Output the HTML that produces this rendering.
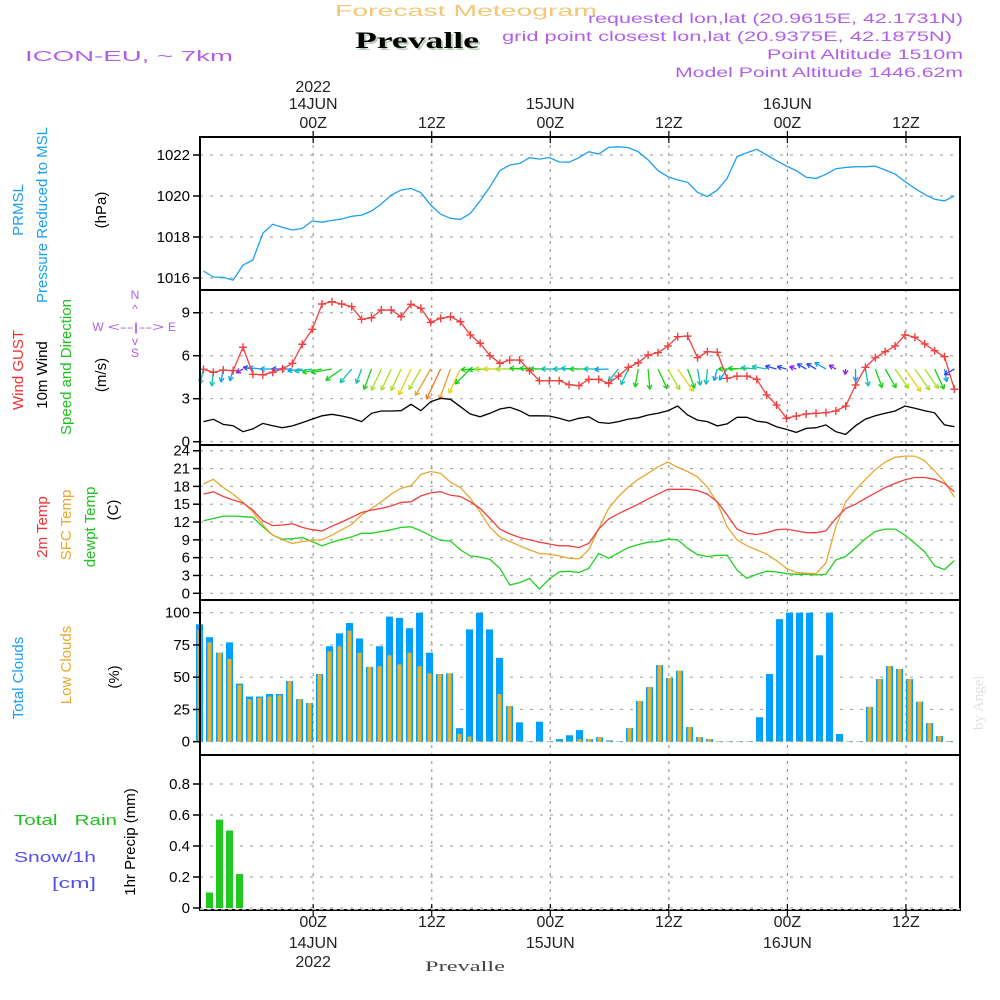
<!DOCTYPE html>
<html><head><meta charset="utf-8"><style>
html,body{margin:0;padding:0;background:#fff;}
svg{display:block;font-family:"Liberation Sans",sans-serif;}
</style></head><body>
<svg id="chart" width="1000" height="1000" viewBox="0 0 1000 1000" xmlns="http://www.w3.org/2000/svg">
<rect x="0" y="0" width="1000" height="1000" fill="#fff"/>
<g id="grid"></g>
<g id="marks"></g>
<g id="frames"></g>
<g id="labels">
<text x="335" y="16" font-size="16" fill="#f2c878" textLength="262" lengthAdjust="spacingAndGlyphs">Forecast Meteogram</text>
<text x="357" y="50" font-size="23" font-weight="bold" fill="#b8ccb8" font-family="Liberation Serif,serif" textLength="124" lengthAdjust="spacingAndGlyphs">Prevalle</text>
<text x="355" y="48" font-size="23" font-weight="bold" fill="#000" font-family="Liberation Serif,serif" textLength="124" lengthAdjust="spacingAndGlyphs">Prevalle</text>
<text x="25" y="61" font-size="15" fill="#b060e8" textLength="208" lengthAdjust="spacingAndGlyphs">ICON-EU, ~ 7km</text>
<text x="588" y="23" font-size="14" fill="#b060e8" textLength="375" lengthAdjust="spacingAndGlyphs">requested lon,lat (20.9615E, 42.1731N)</text>
<text x="502" y="41" font-size="14" fill="#b060e8" textLength="450" lengthAdjust="spacingAndGlyphs">grid point closest lon,lat (20.9375E, 42.1875N)</text>
<text x="767" y="59" font-size="14" fill="#b060e8" textLength="196" lengthAdjust="spacingAndGlyphs">Point Altitude 1510m</text>
<text x="675" y="77" font-size="14" fill="#b060e8" textLength="288" lengthAdjust="spacingAndGlyphs">Model Point Altitude 1446.62m</text>
<text x="425" y="971" font-size="15" fill="#444" font-family="Liberation Serif,serif" textLength="80" lengthAdjust="spacingAndGlyphs">Prevalle</text>
<text transform="translate(983,730) rotate(-90)" font-size="15" fill="#dde4dd" font-family="Liberation Serif,serif">by Angel</text>

<text transform="translate(23,210) rotate(-90)" font-size="15" fill="#1aa0f0" text-anchor="middle">PRMSL</text>
<text transform="translate(47,215) rotate(-90)" font-size="15" fill="#1aa0f0" text-anchor="middle">Pressure Reduced to MSL</text>
<text transform="translate(106,210) rotate(-90)" font-size="15" fill="#000" text-anchor="middle">(hPa)</text>
<text transform="translate(23,370) rotate(-90)" font-size="15" fill="#f03030" text-anchor="middle">Wind GUST</text>
<text transform="translate(47,375) rotate(-90)" font-size="15" fill="#000" text-anchor="middle">10m Wind</text>
<text transform="translate(71,367) rotate(-90)" font-size="15" fill="#20c020" text-anchor="middle">Speed and Direction</text>
<text transform="translate(106,375) rotate(-90)" font-size="15" fill="#000" text-anchor="middle">(m/s)</text>
<g fill="#b060e8" font-size="12" text-anchor="middle">
<text x="135" y="299">N</text><text x="135" y="313">^</text><text x="136" y="331" textLength="56" lengthAdjust="spacingAndGlyphs">&lt;--|--&gt;</text><text x="98" y="331">W</text><text x="172" y="331">E</text><text x="135" y="345">v</text><text x="135" y="357">S</text>
</g>
<text transform="translate(47,527) rotate(-90)" font-size="15" fill="#f03030" text-anchor="middle">2m Temp</text>
<text transform="translate(71,525) rotate(-90)" font-size="15" fill="#e8a830" text-anchor="middle">SFC Temp</text>
<text transform="translate(95,527) rotate(-90)" font-size="15" fill="#20c020" text-anchor="middle">dewpt Temp</text>
<text transform="translate(118,510) rotate(-90)" font-size="15" fill="#000" text-anchor="middle">(C)</text>
<text transform="translate(23,678) rotate(-90)" font-size="15" fill="#1aa0f0" text-anchor="middle">Total Clouds</text>
<text transform="translate(71,665) rotate(-90)" font-size="15" fill="#e8a830" text-anchor="middle">Low Clouds</text>
<text transform="translate(119,677) rotate(-90)" font-size="15" fill="#000" text-anchor="middle">(%)</text>
<text x="14" y="825" font-size="15" fill="#20c020" xml:space="preserve" textLength="103" lengthAdjust="spacingAndGlyphs">Total   Rain</text>
<text x="14" y="862" font-size="15" fill="#5050f0" textLength="82" lengthAdjust="spacingAndGlyphs">Snow/1h</text>
<text x="52" y="888" font-size="15" fill="#5050f0" textLength="44" lengthAdjust="spacingAndGlyphs">[cm]</text>
<text transform="translate(135,842) rotate(-90)" font-size="15" fill="#000" text-anchor="middle">1hr Precip (mm)</text>
</g>
</svg>
<script>
// ---- data (hourly, index 0..76) ----
const pressure=[1016.34,1016.05,1016.03,1015.9,1016.63,1016.88,1018.18,1018.62,1018.47,1018.34,1018.42,1018.78,1018.72,1018.81,1018.88,1019.01,1019.07,1019.27,1019.61,1020.05,1020.29,1020.37,1020.16,1019.56,1019.11,1018.91,1018.86,1019.15,1019.76,1020.45,1021.24,1021.51,1021.59,1021.87,1021.8,1021.88,1021.66,1021.65,1021.87,1022.16,1022.05,1022.37,1022.4,1022.36,1022.16,1021.76,1021.24,1020.94,1020.78,1020.67,1020.18,1019.97,1020.29,1020.86,1021.92,1022.11,1022.28,1022.0,1021.72,1021.46,1021.24,1020.91,1020.86,1021.06,1021.33,1021.39,1021.43,1021.43,1021.46,1021.27,1021.07,1020.7,1020.37,1020.08,1019.84,1019.76,1020.01];
const gust=[5.05,4.84,5.0,4.96,6.59,4.7,4.66,4.84,5.07,5.47,6.8,7.84,9.61,9.77,9.61,9.42,8.54,8.65,9.19,9.19,8.72,9.59,9.31,8.33,8.61,8.72,8.37,7.45,6.87,6.0,5.47,5.7,5.7,4.96,4.26,4.26,4.26,3.98,3.91,4.35,4.35,4.07,4.58,5.19,5.51,6.05,6.21,6.68,7.33,7.37,5.86,6.28,6.24,4.42,4.58,4.58,4.35,3.26,2.56,1.63,1.79,1.93,1.98,2.03,2.14,2.49,3.96,5.19,5.86,6.28,6.68,7.45,7.29,6.82,6.35,5.93,3.66];
const wind=[1.4,1.56,1.21,1.12,0.7,0.89,1.28,1.12,0.98,1.1,1.33,1.58,1.81,1.91,1.79,1.63,1.4,1.98,2.14,2.14,2.16,2.61,2.16,2.79,3.03,2.96,2.44,1.93,1.74,1.98,2.28,2.4,2.16,1.81,1.81,1.79,1.63,1.44,1.63,1.74,1.35,1.28,1.4,1.58,1.67,1.86,1.98,2.16,2.49,1.86,1.51,1.4,1.1,1.24,1.7,1.7,1.44,1.35,1.05,0.86,0.65,0.93,0.98,1.17,0.7,0.51,1.12,1.58,1.81,1.98,2.14,2.49,2.33,2.16,2.02,1.17,1.05];
const windDir=[193,185,190,195,240,280,275,270,270,270,262,262,260,260,235,220,200,200,205,205,205,205,210,210,205,200,205,225,268,268,270,270,270,272,272,270,270,270,272,270,270,268,220,205,190,175,155,150,145,160,170,185,195,215,270,272,275,280,285,285,290,300,300,300,300,185,180,170,160,150,145,145,145,145,155,170,240];
const temp2m=[16.7,17.1,16.3,15.7,15.2,14.0,12.2,11.4,11.5,11.7,11.1,10.7,10.5,11.3,12.0,12.8,13.6,14.0,14.3,14.7,15.3,15.4,16.4,16.9,17.1,16.5,16.3,15.4,14.3,12.6,10.8,10.0,9.4,9.0,8.6,8.3,8.0,8.0,7.7,8.4,10.8,12.5,13.4,14.2,15.0,15.9,16.7,17.5,17.5,17.5,17.3,16.7,15.4,13.2,10.8,10.1,9.9,10.2,10.7,10.8,10.5,10.2,10.2,10.5,12.6,14.3,15.0,16.0,16.9,17.8,18.5,19.1,19.5,19.5,19.2,18.5,17.1];
const tempSfc=[18.4,19.2,17.8,16.7,15.3,13.7,11.5,9.8,9.0,8.4,8.7,8.9,9.0,9.8,10.7,11.6,13.2,14.3,15.4,16.7,17.7,18.1,20.0,20.5,20.2,18.7,17.8,16.0,13.7,11.1,9.5,8.7,8.0,7.3,6.7,6.6,6.3,5.9,5.8,7.3,10.9,14.3,16.3,17.9,19.2,20.2,21.3,22.1,21.2,20.5,19.6,17.9,15.2,11.2,9.0,8.0,7.3,6.6,5.5,4.2,3.5,3.4,3.3,5.1,11.2,15.4,17.4,19.2,20.8,22.1,22.9,23.1,23.1,22.3,20.6,18.8,16.2];
const dewpt=[12.2,12.6,13.0,13.0,12.9,12.8,11.2,9.8,9.1,9.2,9.4,8.7,8.0,8.6,9.1,9.5,10.1,10.1,10.4,10.7,11.1,11.2,10.5,9.7,8.9,8.8,7.3,6.3,6.1,5.7,4.2,1.4,1.8,2.5,0.7,2.4,3.6,3.7,3.5,4.2,6.7,5.9,6.8,7.7,8.2,8.6,8.7,9.1,9.0,7.6,6.5,6.2,6.4,6.4,3.9,2.5,3.2,3.7,3.6,3.3,3.2,3.2,3.1,3.2,5.6,6.2,7.7,9.2,10.4,10.8,10.8,9.8,8.4,7.0,4.6,4.0,5.5];
const totalClouds=[91,81,69,77,45,35,35,37,37,47,33,30,52.5,74,84,92,80,58,74,97,96,88,100,69,52.5,53,10.5,87,100,87,65,27.7,15,0.3,15.5,0.3,2,5,9,2,3.5,1,0.3,10.5,31.5,42.3,59.4,49.3,55,11.4,3.6,2,0.3,0.3,0.3,0.3,19,52.5,95,100,100,100,67,100,6,0.3,0.3,27,48.6,58.7,56.4,48.6,31,14.5,4.4,0.5,0.3];
const lowClouds=[86.6,77,69,64,44,33,34,35,36,47,33,30,52.5,70,74,86,69,58,58.5,67,60,69,58.5,53,52.5,53,6,4,0.5,0.5,37,27.7,0.5,0.3,0.5,0.3,0.5,0.5,2,2,3.5,0.5,0.3,10.5,31.5,42.3,59.4,49.3,55,11.4,3.6,2,0.3,0.3,0.3,0.3,0.5,0.5,0.5,0.5,0.5,0.5,0.5,0.5,0.5,0.3,0.3,27,48.6,58.7,56.4,48.6,31,14.5,4.4,0.5,0.3];
const precip=[0,0.1,0.57,0.5,0.22];
const pTicks=[1016,1018,1020,1022];
const wTicks=[0,3,6,9];
const tTicks=[0,3,6,9,12,15,18,21,24];
const cTicks=[0,25,50,75,100];
const rTicks=[0,0.2,0.4,0.6,0.8];
const rTickLabels=["0","0.2","0.4","0.6","0.8"];
const timeTicks=[11.1,23.1,35.1,47.1,59.1,71.1];
const timeLabels=["00Z","12Z","00Z","12Z","00Z","12Z"];
const dayLabels=["14JUN","","15JUN","","16JUN",""];
const yearLabels=["2022","","","","",""];

// ---- scales ----
const L=200,R=960;
const x=i=>203.5+i*9.88;
const xb=k=>199.5+k*10;
const yP=v=>155-(v-1022)*20.5;
const yW=v=>441.7-v*14.33;
const yT=v=>593.3-v*5.94;
const yC=v=>741.7-v*1.29;
const yR=v=>908-v*155;
const panels=[[137,290],[290,445],[445,600],[600,755],[755,910]];
const NS="http://www.w3.org/2000/svg";
function mk(tag,attrs,parent){const e=document.createElementNS(NS,tag);for(const k in attrs)e.setAttribute(k,attrs[k]);parent.appendChild(e);return e;}
const grid=document.getElementById('grid'),marks=document.getElementById('marks'),frames=document.getElementById('frames'),labels=document.getElementById('labels');

function hgrid(ticks,ys,names,fmt){ticks.forEach((t,j)=>{const y=ys(t);
 const g=mk('line',{x1:L,x2:R,y1:y,y2:y,stroke:'#aaa','stroke-width':1.2,'stroke-dasharray':'3,7'},grid);
 
 const tk=mk('line',{x1:L-7,x2:L,y1:y,y2:y,stroke:'#000','stroke-width':1.5},frames);
 
 const tx=mk('text',{x:L-10,y:y+5,'font-size':15,'text-anchor':'end',fill:'#000'},labels);
 
 tx.textContent=fmt?fmt[j]:String(t);});}
hgrid(pTicks,yP,'pressure');hgrid(wTicks,yW,'wind');hgrid(tTicks,yT,'temp');hgrid(cTicks,yC,'cloud');hgrid(rTicks,yR,'precip',rTickLabels);

timeTicks.forEach((t,j)=>{const xx=x(t);
 const v=mk('line',{x1:xx,x2:xx,y1:137,y2:910,stroke:'#999','stroke-width':1.2,'stroke-dasharray':'3,5'},grid);
 
 [137,910].forEach(yy=>{const tk=mk('line',{x1:xx,x2:xx,y1:yy-6,y2:yy+6,stroke:'#000','stroke-width':1.2},frames);
  });
 const rows=[[timeLabels[j],128,927],[dayLabels[j],109,948],[yearLabels[j],92,967]];
 rows.forEach(r=>{if(!r[0])return;[r[1],r[2]].forEach(yy=>{
  const tx=mk('text',{x:xx,y:yy,'font-size':16,'text-anchor':'middle',fill:'#222'},labels);
  
  tx.textContent=r[0];});});
});

function poly(arr,ys,color,name,w){const pts=arr.map((v,i)=>x(i).toFixed(1)+','+ys(v).toFixed(1)).join(' ');
 const p=mk('polyline',{points:pts,fill:'none',stroke:color,'stroke-width':w||1.3},marks);
 }
poly(pressure,yP,'#1aa0f0','pressure-line');

function spdColor(s){const st=[[0.8,'#8a20e0'],[1.1,'#2848ff'],[1.35,'#10a0f0'],[1.65,'#10c0b0'],[2.1,'#18d018'],[2.4,'#a8e020'],[2.7,'#e8d020'],[3.0,'#f09a30'],[99,'#f07820']];for(const a of st)if(s<a[0])return a[1];return '#f07820';}
windDir.forEach((d,i)=>{const s=wind[i],len=Math.min(11*s,36),rad=d*Math.PI/180;
 const x0=x(i),y0=369,x1=x0+len*Math.sin(rad),y1=y0-len*Math.cos(rad);
 const hl=5,c=spdColor(s);
 const g=mk('g',{stroke:c,'stroke-width':1.3,fill:'none'},marks);
 
 mk('line',{x1:x0,y1:y0,x2:x1,y2:y1},g);
 [-0.5,0.5].forEach(o=>{const a=rad+Math.PI+o;mk('line',{x1:x1,y1:y1,x2:x1+hl*Math.sin(a),y2:y1-hl*Math.cos(a)},g);});
});
poly(wind,yW,'#000','wind-speed-line');
poly(gust,yW,'#f04040','wind-gust-line');
gust.forEach((v,i)=>{const cx=x(i),cy=yW(v);
 const p=mk('path',{d:`M${cx-4} ${cy}H${cx+4}M${cx} ${cy-4}V${cy+4}`,stroke:'#f04040','stroke-width':1.4},marks);
 });

poly(dewpt,yT,'#20d020','dewpoint-line');
poly(tempSfc,yT,'#e8a830','sfc-temp-line');
poly(temp2m,yT,'#f04040','temp-2m-line');

totalClouds.forEach((v,k)=>{const cx=xb(k);if(cx>958)return;
 const b=mk('rect',{x:cx-3.5,y:yC(v),width:7,height:yC(0)-yC(v),fill:'#00a0ff'},marks);
 
 const lv=lowClouds[k];
 const o=mk('rect',{x:cx-2,y:yC(lv),width:4,height:yC(0)-yC(lv),fill:'#e8b030'},marks);
 });

precip.forEach((v,k)=>{if(v<=0)return;const cx=xb(k);
 const b=mk('rect',{x:cx-3.5,y:yR(v),width:7,height:yR(0)-yR(v),fill:'#20c820'},marks);
 });

panels.forEach((p,j)=>{const r=mk('rect',{x:L,y:p[0],width:R-L,height:p[1]-p[0],fill:'none',stroke:'#000','stroke-width':2},frames);
 });
const ba=mk('line',{x1:L,x2:R,y1:909,y2:909,stroke:'#fff','stroke-width':1.2,'stroke-dasharray':'4,3'},frames);

</script>
</body></html>
